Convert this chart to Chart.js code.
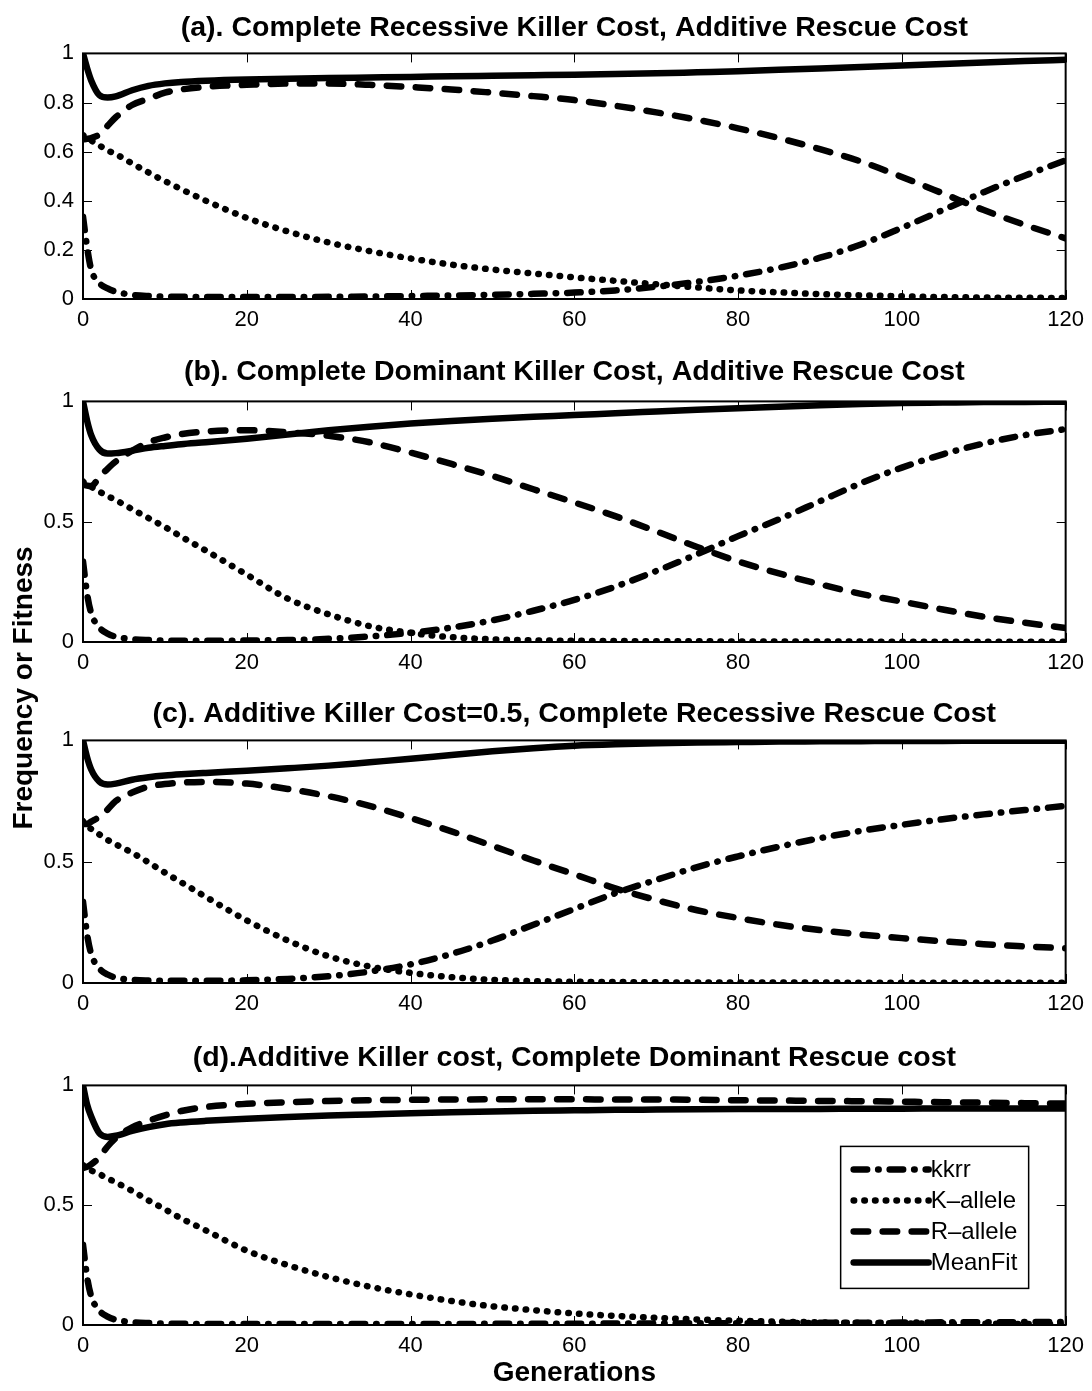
<!DOCTYPE html>
<html>
<head>
<meta charset="utf-8">
<title>Killer / Rescue allele frequencies</title>
<script src="https://cdn.jsdelivr.net/npm/chart.js@4.4.1/dist/chart.umd.min.js"></script>
<style>
  body { margin: 0; background: #fff; }
  #page { position: relative; width: 1092px; height: 1391px; font-family: "Liberation Sans", Arial, sans-serif; }
  .panel { position: absolute; left: 0; }
  #ylab { position: absolute; left: -177px; top: 673px; width: 400px; line-height: 30px;
          text-align: center; font-weight: bold; font-size: 28px; transform: rotate(-90deg); }
</style>
</head>
<body>
<div id="page">
  <canvas class="panel" id="panelA" width="1092" height="319" style="top:11px"></canvas>
  <canvas class="panel" id="panelB" width="1092" height="318" style="top:355px"></canvas>
  <canvas class="panel" id="panelC" width="1092" height="317" style="top:697px"></canvas>
  <canvas class="panel" id="panelD" width="1092" height="350" style="top:1041px"></canvas>
  <div id="ylab">Frequency or Fitness</div>
</div>
<script>
// #-------------- Chart Data --------------#

// Generations (denser near the start)
const gens = [0, 0.5, 1, 2, 3, 4, 6, 8, 10, 12, 15, 20, 25, 30, 35, 40, 45, 50,
              55, 60, 65, 70, 75, 80, 85, 90, 95, 100, 105, 110, 115, 120];

const seriesNames = ['kkrr', 'K\u2013allele', 'R\u2013allele', 'MeanFit'];
const xTicks  = [0, 20, 40, 60, 80, 100, 120];
const yTicksA = [0, 0.2, 0.4, 0.6, 0.8, 1];
const yTicks  = [0, 0.5, 1];

const titles = [
    '(a). Complete Recessive Killer Cost, Additive Rescue Cost',
    '(b). Complete Dominant Killer Cost, Additive Rescue Cost',
    '(c). Additive Killer Cost=0.5, Complete Recessive Rescue Cost',
    '(d).Additive Killer cost, Complete Dominant Rescue cost'
];

// (a)
const kkrrA    = [0.335, 0.21, 0.12, 0.065, 0.043, 0.03, 0.017, 0.012, 0.01, 0.009, 0.008, 0.008, 0.008, 0.009, 0.01, 0.012,
                  0.014, 0.017, 0.021, 0.026, 0.035, 0.05, 0.07, 0.095, 0.127, 0.168, 0.222, 0.29, 0.362, 0.435, 0.502, 0.565];
const kAlleleA = [0.667, 0.655, 0.645, 0.625, 0.605, 0.59, 0.552, 0.515, 0.48, 0.447, 0.4, 0.33, 0.275, 0.23, 0.195, 0.165,
                  0.14, 0.12, 0.104, 0.088, 0.074, 0.06, 0.047, 0.035, 0.027, 0.02, 0.015, 0.011, 0.008, 0.006, 0.005, 0.004];
const rAlleleA = [0.65, 0.652, 0.655, 0.67, 0.705, 0.74, 0.79, 0.815, 0.84, 0.853, 0.864, 0.872, 0.877, 0.877, 0.872, 0.863,
                  0.853, 0.84, 0.826, 0.81, 0.787, 0.76, 0.73, 0.695, 0.655, 0.61, 0.56, 0.497, 0.43, 0.362, 0.302, 0.247];
const meanFitA = [1, 0.94, 0.89, 0.83, 0.82, 0.825, 0.85, 0.868, 0.878, 0.884, 0.889, 0.894, 0.897, 0.9, 0.902, 0.904,
                  0.907, 0.909, 0.911, 0.913, 0.916, 0.919, 0.923, 0.927, 0.933, 0.939, 0.945, 0.951, 0.957, 0.963, 0.969, 0.974];
// (b)
const kkrrB    = [0.335, 0.2, 0.12, 0.06, 0.035, 0.022, 0.012, 0.008, 0.006, 0.005, 0.005, 0.006, 0.008, 0.013, 0.023, 0.038,
                  0.06, 0.09, 0.13, 0.175, 0.23, 0.295, 0.365, 0.44, 0.51, 0.585, 0.66, 0.725, 0.78, 0.825, 0.86, 0.885];
const kAlleleB = [0.667, 0.655, 0.645, 0.625, 0.607, 0.59, 0.552, 0.515, 0.478, 0.438, 0.38, 0.28, 0.18, 0.115, 0.066, 0.038,
                  0.02, 0.011, 0.007, 0.005, 0.004, 0.003, 0.003, 0.002, 0.002, 0.002, 0.002, 0.001, 0.001, 0.001, 0.001, 0.001];
const rAlleleB = [0.655, 0.65, 0.648, 0.686, 0.72, 0.75, 0.795, 0.83, 0.85, 0.864, 0.875, 0.88, 0.872, 0.857, 0.83, 0.787,
                  0.74, 0.69, 0.635, 0.58, 0.523, 0.46, 0.395, 0.335, 0.285, 0.24, 0.2, 0.168, 0.135, 0.105, 0.08, 0.058];
const meanFitB = [1, 0.92, 0.86, 0.8, 0.783, 0.785, 0.795, 0.807, 0.815, 0.822, 0.83, 0.845, 0.862, 0.88, 0.895, 0.908,
                  0.919, 0.928, 0.936, 0.943, 0.951, 0.958, 0.965, 0.972, 0.978, 0.984, 0.989, 0.993, 0.995, 0.997, 0.998, 0.999];
// (c)
const kkrrC    = [0.335, 0.2, 0.12, 0.06, 0.035, 0.022, 0.013, 0.01, 0.009, 0.009, 0.009, 0.011, 0.017, 0.028, 0.047, 0.077,
                  0.12, 0.175, 0.24, 0.305, 0.37, 0.425, 0.478, 0.522, 0.562, 0.597, 0.627, 0.652, 0.675, 0.695, 0.713, 0.73];
const kAlleleC = [0.667, 0.645, 0.635, 0.612, 0.59, 0.572, 0.537, 0.497, 0.455, 0.415, 0.355, 0.258, 0.175, 0.11, 0.068, 0.042,
                  0.024, 0.013, 0.008, 0.005, 0.004, 0.003, 0.002, 0.002, 0.002, 0.002, 0.001, 0.001, 0.001, 0.001, 0.001, 0.001];
const rAlleleC = [0.655, 0.655, 0.665, 0.685, 0.715, 0.75, 0.785, 0.81, 0.82, 0.826, 0.829, 0.822, 0.8, 0.77, 0.73, 0.68,
                  0.625, 0.565, 0.505, 0.448, 0.39, 0.342, 0.3, 0.268, 0.24, 0.218, 0.2, 0.185, 0.172, 0.16, 0.151, 0.143];
const meanFitC = [1, 0.93, 0.88, 0.83, 0.818, 0.822, 0.838, 0.848, 0.855, 0.86, 0.866, 0.875, 0.885, 0.896, 0.91, 0.924,
                  0.94, 0.955, 0.968, 0.978, 0.984, 0.988, 0.991, 0.993, 0.995, 0.996, 0.997, 0.998, 0.998, 0.999, 0.999, 0.999];
// (d)
const kkrrD    = [0.335, 0.2, 0.12, 0.06, 0.035, 0.022, 0.012, 0.008, 0.006, 0.005, 0.004, 0.004, 0.004, 0.004, 0.004, 0.004,
                  0.004, 0.005, 0.005, 0.005, 0.006, 0.006, 0.007, 0.007, 0.008, 0.009, 0.009, 0.01, 0.011, 0.011, 0.012, 0.012];
const kAlleleD = [0.667, 0.655, 0.645, 0.63, 0.612, 0.595, 0.56, 0.52, 0.483, 0.445, 0.395, 0.31, 0.25, 0.2, 0.16, 0.128,
                  0.1, 0.078, 0.062, 0.048, 0.038, 0.03, 0.023, 0.018, 0.014, 0.011, 0.009, 0.007, 0.006, 0.005, 0.004, 0.003];
const rAlleleD = [0.655, 0.66, 0.67, 0.7, 0.745, 0.78, 0.825, 0.852, 0.875, 0.893, 0.91, 0.923, 0.93, 0.935, 0.938, 0.94,
                  0.941, 0.942, 0.942, 0.942, 0.941, 0.941, 0.94, 0.938, 0.937, 0.935, 0.934, 0.932, 0.93, 0.928, 0.926, 0.924];
const meanFitD = [1, 0.92, 0.87, 0.8, 0.785, 0.79, 0.81, 0.826, 0.838, 0.845, 0.852, 0.861, 0.868, 0.874, 0.879, 0.884,
                  0.888, 0.891, 0.894, 0.896, 0.898, 0.899, 0.9, 0.901, 0.902, 0.902, 0.903, 0.903, 0.904, 0.904, 0.904, 0.904];

// #-------------- Styling --------------#

const fontFamily = '"Liberation Sans", Arial, Helvetica, sans-serif';
const lineW = 6.5;
// MATLAB-ish line styles: dash-dot, dotted, dashed, solid
const dashes = [[13.5, 11, 0.5, 11], [0.5, 10.2], [14.5, 14.5], []];
const tickLen = 9;

// Draws the closed axes box with inward ticks, like MATLAB's "box on"
const boxTicks = {
    id: 'boxTicks',
    afterDatasetsDraw(chart) {
        const {ctx, chartArea: a, scales: {x, y}} = chart;
        ctx.save();
        ctx.strokeStyle = '#000';
        ctx.lineWidth = 1;
        ctx.beginPath();
        x.ticks.forEach(t => {
            const px = Math.round(x.getPixelForValue(t.value)) + 0.5;
            ctx.moveTo(px, a.bottom); ctx.lineTo(px, a.bottom - tickLen);
            ctx.moveTo(px, a.top);    ctx.lineTo(px, a.top + tickLen);
        });
        y.ticks.forEach(t => {
            const py = Math.round(y.getPixelForValue(t.value)) + 0.5;
            ctx.moveTo(a.left, py);  ctx.lineTo(a.left + tickLen, py);
            ctx.moveTo(a.right, py); ctx.lineTo(a.right - tickLen, py);
        });
        ctx.stroke();
        ctx.lineWidth = 2;
        ctx.strokeRect(a.left, a.top, a.right - a.left, a.bottom - a.top);
        ctx.restore();
    }
};

// Legend box drawn inside the plot area of panel (d)
const curveKey = {
    id: 'curveKey',
    afterDraw(chart) {
        const {ctx, chartArea: a} = chart;
        const left = a.right - 225, top = a.top + 61;
        ctx.save();
        ctx.fillStyle = '#fff';
        ctx.fillRect(left, top, 188, 142);
        ctx.strokeStyle = '#000';
        ctx.lineWidth = 1.5;
        ctx.strokeRect(left, top, 188, 142);
        chart.data.datasets.forEach((ds, i) => {
            const rowY = top + 23 + i * 31;
            ctx.beginPath();
            ctx.lineWidth = ds.borderWidth;
            ctx.lineCap = 'round';
            ctx.setLineDash(ds.borderDash);
            ctx.moveTo(left + 13, rowY);
            ctx.lineTo(left + 88, rowY);
            ctx.stroke();
            ctx.setLineDash([]);
            ctx.fillStyle = '#000';
            ctx.font = '24px ' + fontFamily;
            ctx.textBaseline = 'middle';
            ctx.fillText(ds.label, left + 90, rowY + 1);
        });
        ctx.restore();
    }
};

// #-------------- Chart Construction --------------#

function makeSeries(values, i) {
    return {
        label: seriesNames[i],
        data: gens.map((g, k) => ({x: g, y: values[k]})),
        borderColor: '#000',
        borderWidth: lineW,
        borderDash: dashes[i],
        borderCapStyle: 'round',
        borderJoinStyle: 'round',
        cubicInterpolationMode: 'monotone',
        pointRadius: 0,
        fill: false,
    };
}

function makePanel(canvasId, title, seriesList, yTickVals, opts) {
    const tickFont = {family: fontFamily, size: 22};
    return new Chart(document.getElementById(canvasId), {
        type: 'line',
        data: {datasets: seriesList.map(makeSeries)},
        options: {
            responsive: false,
            animation: false,
            devicePixelRatio: 1,
            layout: {padding: {left: 0, right: 23, top: 0, bottom: 0}},
            plugins: {
                legend: {display: false},
                tooltip: {enabled: false},
                title: {
                    display: true, text: title, color: '#000', fullSize: false,
                    font: {family: fontFamily, size: 28.5, weight: 'bold', lineHeight: 1.2},
                    padding: {top: 0, bottom: opts.titleGap},
                },
            },
            scales: {
                x: {
                    type: 'linear', min: 0, max: 120,
                    grid: {display: false, drawTicks: false},
                    border: {display: false},
                    afterBuildTicks: s => { s.ticks = xTicks.map(v => ({value: v})); },
                    afterFit: s => { s.height = opts.xHeight; },
                    ticks: {color: '#000', font: tickFont, padding: 8, maxRotation: 0},
                    title: {
                        display: !!opts.xTitle, text: opts.xTitle || '', color: '#000',
                        font: {family: fontFamily, size: 28, weight: 'bold', lineHeight: 1.2},
                        padding: {top: 0, bottom: 1},
                    },
                },
                y: {
                    type: 'linear', min: 0, max: 1,
                    grid: {display: false, drawTicks: false},
                    border: {display: false},
                    afterBuildTicks: s => { s.ticks = yTickVals.map(v => ({value: v})); },
                    afterFit: s => { s.width = 83; },
                    ticks: {color: '#000', font: tickFont, padding: 9,
                            callback: v => String(+v.toFixed(1))},
                },
            },
        },
        plugins: opts.withKey ? [boxTicks, curveKey] : [boxTicks],
    });
}

window.addEventListener('load', () => {
    makePanel('panelA', titles[0], [kkrrA, kAlleleA, rAlleleA, meanFitA], yTicksA, {titleGap: 8.2, xHeight: 31});
    makePanel('panelB', titles[1], [kkrrB, kAlleleB, rAlleleB, meanFitB], yTicks, {titleGap: 12.2, xHeight: 31});
    makePanel('panelC', titles[2], [kkrrC, kAlleleC, rAlleleC, meanFitC], yTicks, {titleGap: 9.2, xHeight: 31});
    makePanel('panelD', titles[3], [kkrrD, kAlleleD, rAlleleD, meanFitD], yTicks,
              {titleGap: 10.2, xHeight: 66, xTitle: 'Generations', withKey: true});
});
</script>
</body>
</html>
